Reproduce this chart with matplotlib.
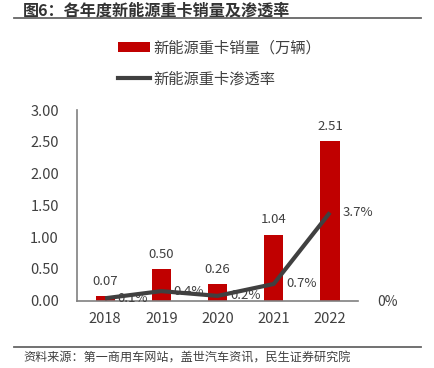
import matplotlib.pyplot as plt
from matplotlib.lines import Line2D

plt.rcParams['font.family'] = ['Noto Sans CJK SC', 'DejaVu Sans']

# Data
years = ['2018', '2019', '2020', '2021', '2022']
sales = [0.07, 0.50, 0.26, 1.04, 2.51]           # 万辆
penetration = [0.001, 0.004, 0.002, 0.007, 0.037]
pen_labels = ['0.1%', '0.4%', '0.2%', '0.7%', '3.7%']

red = '#C00000'
dark = '#404040'
text_c = '#404040'
axis_c = '#808080'

fig = plt.figure(figsize=(4.34, 3.68), dpi=100, facecolor='white')
ax = fig.add_axes([0.1774, 0.183, 0.6476, 0.518])
x = list(range(len(years)))

bars = ax.bar(x, sales, width=0.34, color=red, zorder=2)
for xi, v in zip(x, sales):
    ax.annotate(f'{v:.2f}', (xi, v), xytext=(0, 6), textcoords='offset points',
                ha='center', va='bottom', fontsize=9.5, color=text_c)

ax.set_xlim(-0.5, 4.5)
ax.set_ylim(0, 3.0)
ax.set_yticks([0, 0.5, 1.0, 1.5, 2.0, 2.5, 3.0])
ax.set_yticklabels([f'{t:.2f}' for t in ax.get_yticks()])
ax.set_xticks(x)
ax.set_xticklabels(years)
ax.tick_params(axis='both', length=0, labelsize=10.5, colors=text_c)
ax.tick_params(axis='y', pad=13)
ax.tick_params(axis='x', pad=8)
for s in ['top', 'right']:
    ax.spines[s].set_visible(False)
for s in ['left', 'bottom']:
    ax.spines[s].set_color(axis_c)
    ax.spines[s].set_linewidth(1.2)

ax2 = ax.twinx()
ax2.plot(x, penetration, color=dark, lw=3, zorder=3, solid_capstyle='butt')
ax2.set_ylim(0, 0.08)
ax2.set_yticks([0])
ax2.set_yticklabels(['0%'])
ax2.tick_params(axis='y', length=0, labelsize=10, colors=text_c, pad=14)
for s in ['top', 'right', 'left', 'bottom']:
    ax2.spines[s].set_visible(False)
for xi, v, lab in zip(x, penetration, pen_labels):
    ax2.annotate(lab, (xi, v), xytext=(20, 0), textcoords='offset points',
                 ha='center', va='center', fontsize=9.5, color=text_c)

# Legend
handles = [bars, Line2D([0], [0], color=dark, lw=3)]
labels = ['新能源重卡销量（万辆）', '新能源重卡渗透率']
fig.legend(handles, labels, loc='upper left', bbox_to_anchor=(0.258, 0.91),
           frameon=False, fontsize=11, labelcolor=text_c, handlelength=2.1,
           handleheight=0.7, handletextpad=0.2, labelspacing=0.95, borderaxespad=0)

# Title and footer
fig.text(0.053, 0.972, '图6：各年度新能源重卡销量及渗透率', fontsize=11.6,
         fontweight='bold', color='#333333', ha='left', va='center')
fig.add_artist(Line2D([0.032, 0.97], [0.952, 0.952], color='#666666', lw=1.3))
fig.add_artist(Line2D([0.032, 0.97], [0.058, 0.058], color='#666666', lw=1.3))
fig.text(0.053, 0.027, '资料来源：第一商用车网站，盖世汽车资讯，民生证券研究院', fontsize=8.7,
         color=text_c, ha='left', va='center')

fig.savefig('out.png', dpi=100, facecolor='white')
